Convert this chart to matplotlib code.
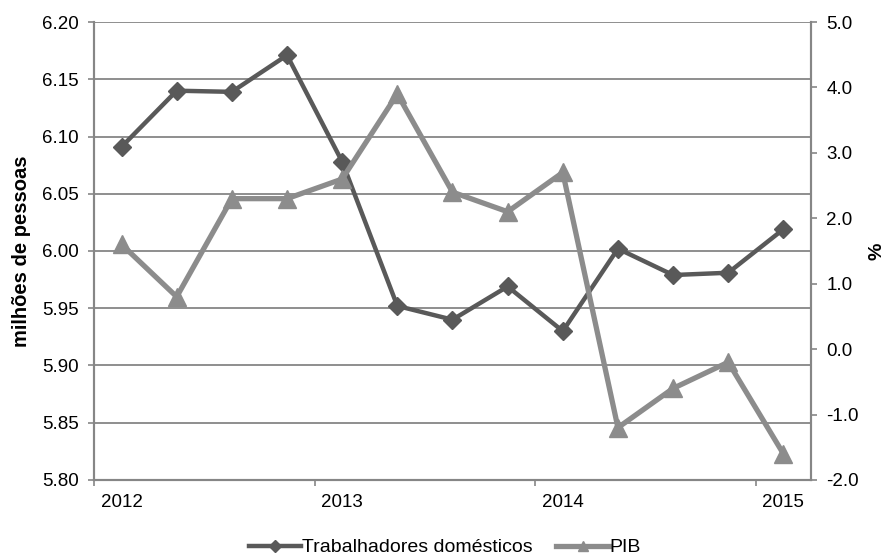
import numpy as np
import matplotlib.pyplot as plt

plt.rcParams['font.family'] = ['Liberation Sans', 'DejaVu Sans']

# quarterly series, 2012 Q1 .. 2015 Q1
trabalhadores = [6.091, 6.140, 6.139, 6.171, 6.078, 5.952, 5.940, 5.969, 5.930, 6.002, 5.979, 5.981, 6.019]
pib = [1.6, 0.8, 2.3, 2.3, 2.6, 3.9, 2.4, 2.1, 2.7, -1.2, -0.6, -0.2, -1.6]
year_labels = ['2012', '2013', '2014', '2015']

x = np.arange(len(trabalhadores))
grey = '#868686'
dark = '#595959'
light = '#8c8c8c'

fig = plt.figure(figsize=(8.9, 5.6), dpi=100)
ax = fig.add_axes([0.1056, 0.1429, 0.8056, 0.8178])
ax2 = ax.twinx()

l1, = ax.plot(x, trabalhadores, color=dark, lw=3.2, marker='D', ms=9.5,
              label='Trabalhadores domésticos', zorder=3)
l2, = ax2.plot(x, pib, color=light, lw=3.8, marker='^', ms=12.5,
               label='PIB', zorder=3)

ax.set_ylim(5.80, 6.20)
ax.set_yticks(np.arange(5.80, 6.201, 0.05))
ax.set_yticklabels(['%.2f' % v for v in np.arange(5.80, 6.201, 0.05)])
ax2.set_ylim(-2.0, 5.0)
ax2.set_yticks(np.arange(-2, 5.01, 1.0))
ax2.set_yticklabels(['%.1f' % v for v in np.arange(-2, 5.01, 1.0)])

# year ticks between quarters, labels centred on the first quarter
ax.set_xlim(-0.5, len(x) - 0.5)
ax.set_xticks([-0.5, 3.5, 7.5, 11.5])
ax.set_xticklabels([])
ax.set_xticks([0, 4, 8, 12], minor=True)
ax.set_xticklabels(year_labels, minor=True)

ax.grid(axis='y', color=grey, lw=1.3)
ax.set_axisbelow(True)
for a in (ax, ax2):
    for s in a.spines.values():
        s.set_color(grey)
        s.set_linewidth(1.5)
    a.spines['top'].set_visible(False)
    a.tick_params(which='both', labelsize=13.5, colors='black')
ax.tick_params(axis='y', length=4, width=1.2, color=grey, pad=7)
ax2.tick_params(axis='y', length=4, width=1.2, color=grey, pad=7)
ax.tick_params(axis='x', which='major', length=4, width=1.2, color=grey)
ax.tick_params(axis='x', which='minor', length=0, pad=10)

ax.set_ylabel('milhões de pessoas', fontsize=14.5, fontweight='bold', labelpad=8)
ax2.set_ylabel('%', fontsize=14, fontweight='bold', labelpad=7)

fig.legend(handles=[l1, l2], loc='center', bbox_to_anchor=(0.5, 0.022),
           ncol=2, frameon=False, fontsize=14, handlelength=2.7,
           handletextpad=0.05, columnspacing=1.2, markerscale=0.6)

fig.savefig('out.png', dpi=100)
